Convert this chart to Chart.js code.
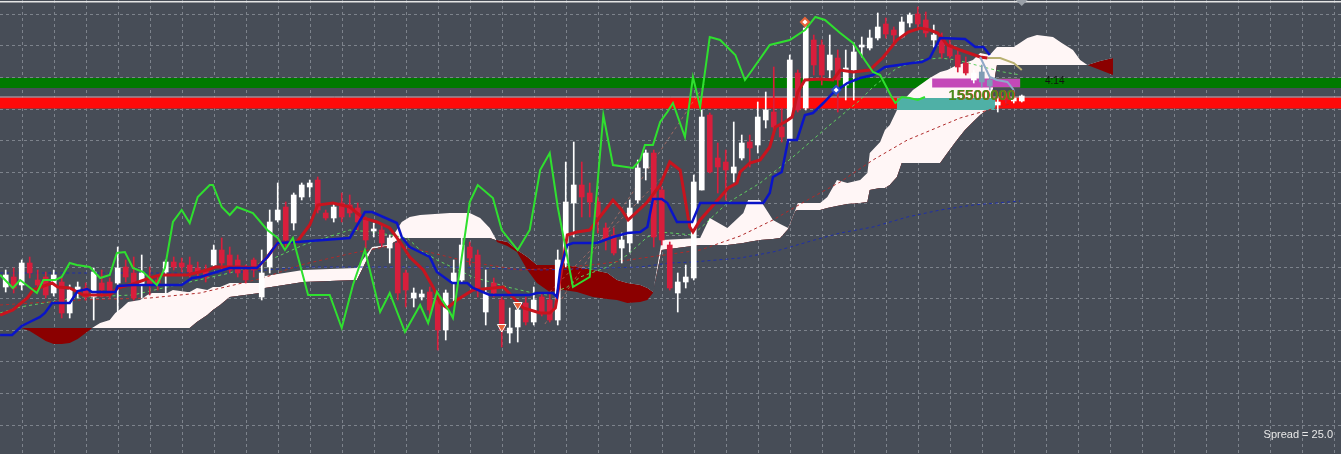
<!DOCTYPE html>
<html>
<head>
<meta charset="utf-8">
<script src="https://cdn.jsdelivr.net/npm/chart.js@4.4.1/dist/chart.umd.min.js"></script>
<style>
  html, body { margin: 0; padding: 0; background: #474d57; }
  #wrap { width: 1341px; height: 454px; position: relative; }
</style>
</head>
<body>
<div id="wrap"><canvas id="ichimokuChart"></canvas></div>
<script>
// ================================
// DATA (bar index 0..127, price in points)
// ================================

const candleOpen = [
    1167, 1177, 1169, 1191, 1174, 1177, 1161, 1172, 1141, 1164,
    1166, 1157, 1171, 1172, 1171, 1187, 1181, 1169, 1177, 1174,
    1182, 1192, 1191, 1189, 1186, 1184, 1189, 1204, 1199, 1194,
    1184, 1194, 1157, 1187, 1234, 1247, 1231, 1257, 1267, 1274,
    1241, 1236, 1251, 1249, 1246, 1234, 1223, 1224, 1206, 1211,
    1181, 1156, 1157, 1162, 1154, 1124, 1171, 1174, 1207, 1199,
    1142, 1171, 1154, 1121, 1127, 1151, 1132, 1157, 1154, 1134,
    1191, 1251, 1269, 1261, 1252, 1226, 1219, 1206, 1211, 1254,
    1286, 1301, 1264, 1209, 1161, 1172, 1176, 1264, 1339, 1296,
    1292, 1281, 1296, 1312, 1309, 1334, 1342, 1327, 1314, 1381,
    1346, 1414, 1409, 1384, 1396, 1369, 1384, 1407, 1406, 1416,
    1430, 1424, 1417, 1431, 1440, 1434, 1414, 1416, 1409, 1399,
    1391, 1374, 1382, 1374, 1349, 1358, 1353, 1353,
];
const candleHigh = [
    1184, 1186, 1194, 1197, 1184, 1182, 1184, 1176, 1169, 1172,
    1171, 1186, 1184, 1176, 1207, 1194, 1197, 1199, 1187, 1179,
    1194, 1197, 1196, 1197, 1192, 1189, 1209, 1216, 1207, 1199,
    1189, 1196, 1204, 1244, 1271, 1252, 1261, 1271, 1274, 1277,
    1244, 1251, 1261, 1259, 1251, 1237, 1231, 1229, 1219, 1214,
    1184, 1166, 1164, 1167, 1157, 1164, 1194, 1217, 1212, 1204,
    1184, 1176, 1157, 1146, 1149, 1157, 1167, 1161, 1161, 1204,
    1292, 1312, 1292, 1271, 1257, 1231, 1226, 1221, 1254, 1294,
    1304, 1304, 1267, 1212, 1181, 1189, 1279, 1344, 1341, 1311,
    1304, 1332, 1319, 1319, 1352, 1362, 1387, 1346, 1399, 1384,
    1432, 1419, 1414, 1419, 1404, 1404, 1411, 1417, 1424, 1441,
    1436, 1427, 1437, 1441, 1447, 1442, 1429, 1421, 1414, 1404,
    1397, 1384, 1389, 1376, 1356, 1360, 1358, 1359,
];
const candleLow = [
    1162, 1161, 1164, 1176, 1164, 1156, 1158, 1136, 1136, 1156,
    1154, 1134, 1157, 1156, 1142, 1172, 1154, 1156, 1159, 1164,
    1157, 1184, 1182, 1177, 1176, 1172, 1186, 1184, 1181, 1177,
    1171, 1177, 1154, 1181, 1232, 1207, 1224, 1254, 1257, 1241,
    1234, 1232, 1232, 1237, 1224, 1206, 1217, 1207, 1191, 1154,
    1147, 1147, 1154, 1137, 1104, 1114, 1151, 1171, 1189, 1157,
    1129, 1157, 1107, 1111, 1112, 1129, 1129, 1138, 1132, 1129,
    1187, 1217, 1237, 1237, 1221, 1204, 1199, 1191, 1202, 1251,
    1274, 1207, 1209, 1164, 1142, 1166, 1174, 1264, 1281, 1261,
    1254, 1272, 1294, 1287, 1301, 1326, 1321, 1312, 1312, 1342,
    1344, 1379, 1369, 1376, 1342, 1354, 1354, 1397, 1404, 1414,
    1416, 1411, 1416, 1427, 1424, 1417, 1407, 1396, 1396, 1382,
    1379, 1371, 1367, 1364, 1342, 1351, 1351, 1352,
];
const candleClose = [
    1179, 1166, 1191, 1181, 1169, 1159, 1179, 1141, 1164, 1167,
    1157, 1182, 1164, 1161, 1186, 1177, 1156, 1181, 1169, 1171,
    1192, 1187, 1187, 1182, 1181, 1177, 1204, 1191, 1184, 1181,
    1174, 1184, 1181, 1232, 1244, 1214, 1259, 1269, 1271, 1244,
    1236, 1247, 1237, 1241, 1232, 1214, 1225, 1211, 1216, 1161,
    1164, 1161, 1160, 1144, 1124, 1161, 1181, 1209, 1196, 1166,
    1161, 1161, 1124, 1126, 1144, 1132, 1154, 1142, 1134, 1194,
    1252, 1269, 1257, 1252, 1237, 1214, 1201, 1214, 1246, 1286,
    1301, 1217, 1214, 1166, 1172, 1177, 1272, 1337, 1282, 1287,
    1284, 1287, 1311, 1306, 1337, 1344, 1327, 1317, 1394, 1344,
    1426, 1389, 1379, 1399, 1374, 1386, 1402, 1409, 1416, 1427,
    1420, 1419, 1432, 1439, 1430, 1421, 1419, 1401, 1398, 1387,
    1381, 1381, 1372, 1368, 1352, 1354, 1356, 1358,
];
// bars painted in the "current" tint
const tintedBars = [122, 123];

// Ichimoku lines: [bar, price]
const tenkan = [
    [-0.7, 1139], [0.9, 1144], [2.7, 1156], [3.4, 1164], [5.8, 1171], [6.5, 1167], [8, 1166],
    [9.7, 1159], [13, 1159], [14, 1166], [15.9, 1170], [18, 1176], [19.3, 1179], [22.7, 1179],
    [25.2, 1184], [26.2, 1187], [29.3, 1187], [31.4, 1186], [32.7, 1197], [34, 1211], [36.4, 1212],
    [38, 1229], [39, 1249], [40.9, 1251], [43, 1247], [43.9, 1241], [44.7, 1236], [46.4, 1232],
    [48, 1226], [49.3, 1212], [50.5, 1197], [52.2, 1184], [53.4, 1167], [54.3, 1151], [55.2, 1146],
    [56.4, 1154], [58.4, 1164], [62.2, 1167], [64.7, 1146], [66.8, 1141], [68, 1141], [68.7, 1146],
    [70.2, 1219], [71.4, 1222], [73, 1224], [75.9, 1254], [77, 1244], [77.8, 1234], [80.2, 1252],
    [81.8, 1269], [83, 1292], [84.3, 1284], [85.5, 1227], [85.9, 1222], [86.8, 1234], [89, 1254],
    [90.3, 1266], [91.4, 1271], [91.8, 1282], [93, 1291], [94.3, 1294], [95.5, 1307], [96.2, 1327],
    [97.4, 1332], [98.3, 1337], [99, 1362], [99.9, 1374], [101.8, 1375], [103.4, 1374], [104.3, 1384],
    [105.9, 1382], [108, 1384], [109.7, 1397], [111.4, 1414], [112.8, 1422], [114.3, 1426],
    [115.5, 1424], [116.5, 1421], [117.7, 1409], [119.3, 1404], [121.8, 1397], [122.7, 1396],
];
const tenkanTail = [[122.7, 1396], [124.3, 1396], [126, 1391], [127, 1384]];

const kijun = [
    [-0.7, 1119], [0.8, 1119], [2, 1128], [3, 1132], [4.3, 1137], [4.9, 1141], [5.8, 1151], [8, 1151],
    [9, 1163], [10.2, 1165], [10.8, 1162], [13.7, 1162], [14, 1168], [15.9, 1169], [22, 1169],
    [23.3, 1176], [24.3, 1177], [28, 1186], [31.4, 1186], [32.7, 1197], [34, 1211], [36.4, 1212],
    [43, 1216], [44.9, 1242], [45.8, 1242], [48.9, 1231], [49.5, 1217], [50.5, 1207], [53, 1197],
    [53.9, 1182], [55.8, 1171], [57.7, 1171], [58.4, 1166], [60.5, 1159], [65.5, 1159], [66.4, 1161],
    [68.4, 1161], [68.9, 1157], [69.3, 1184], [70.2, 1209], [70.9, 1211], [73.9, 1211], [75.9, 1217],
    [77.7, 1221], [79.3, 1222], [80.2, 1227], [80.9, 1255], [82, 1255], [82.7, 1251], [83.9, 1232],
    [85.8, 1232], [86.8, 1251], [94.7, 1251], [95.5, 1261], [95.9, 1277], [97, 1282], [97.8, 1314],
    [98.9, 1314], [99.9, 1339], [100.9, 1341], [102.2, 1351], [103.4, 1361], [105.2, 1371],
    [106.8, 1376], [108.4, 1379], [109.9, 1387], [113.3, 1391], [114.5, 1392], [115.5, 1396],
    [116.8, 1416], [119.9, 1415], [121.2, 1407], [122.2, 1407], [123, 1399],
];
const kijunTail = [[121.8, 1397], [123, 1377], [123.9, 1374], [125.2, 1372], [126, 1364]];

const chikou = [
    [-0.7, 1179], [0.9, 1166], [1.8, 1174], [3.9, 1161], [4.7, 1174], [6.2, 1174], [7, 1177],
    [8, 1191], [8.9, 1189], [10.5, 1187], [11.8, 1176], [13, 1179], [13.9, 1201], [14.9, 1202],
    [15.9, 1186], [17.2, 1182], [18.9, 1169], [19.9, 1186], [20.9, 1232], [22, 1244], [23, 1231],
    [24, 1257], [25.5, 1269], [25.9, 1269], [27, 1247], [28, 1239], [28.9, 1247], [30.9, 1241],
    [32.7, 1224], [34, 1216], [34.9, 1204], [35.9, 1216], [37.8, 1159], [40.5, 1159], [42, 1126],
    [43.4, 1169], [44.9, 1204], [46.8, 1142], [48, 1161], [49.9, 1122], [51.8, 1149], [52.8, 1131],
    [53.9, 1162], [55.5, 1142], [55.9, 1136], [58, 1252], [59, 1269], [60.9, 1256], [62, 1224],
    [64, 1204], [65.5, 1224], [66.8, 1284], [68, 1301], [69, 1247], [70.9, 1167], [73, 1177],
    [73.4, 1217], [74.7, 1339], [75.9, 1289], [78.4, 1286], [79.3, 1294], [79.9, 1309], [80.9, 1309],
    [81.8, 1332], [82.7, 1342], [83.4, 1351], [84.9, 1317], [85.9, 1377], [86.8, 1347], [88, 1417],
    [89.3, 1414], [91.2, 1399], [92.4, 1374], [93.3, 1384], [95.5, 1409], [98, 1414], [99.9, 1424],
    [101.2, 1437], [102.4, 1434], [104.3, 1421], [105.9, 1411], [108.4, 1382], [109.3, 1379],
    [110.8, 1356], [111.2, 1351], [112, 1357], [113, 1356], [114, 1354], [114.9, 1357],
];

// Kumo (cloud) edges
const cloudBar = [
    2, 3, 4, 5, 6, 7, 8, 9, 10, 10.8, 11.8, 13, 13.7, 14.5, 15.3, 16.8, 17.7, 18.3, 20.2, 20.9,
    22.7, 23, 23.9, 25.2, 25.9, 26.8, 28, 31.8, 32.4, 37.2, 43.9, 45.8, 47.7, 49.5, 50.5, 51.8,
    55.5, 58, 59.3, 60.5, 61.2, 61.4, 62.7, 63.9, 65.2, 66.4, 68, 69.7, 71.4, 73.4, 75.2, 76.4,
    77.7, 79.3, 80.2, 80.9, 82, 86.8, 88, 90.2, 92.2, 92.8, 94.3, 95.9, 96.8, 97.8, 98.7, 99,
    101.8, 102.7, 103.9, 105.2, 106.8, 107.7, 108, 109.3, 109.9, 110.5, 111.4, 112, 113.4, 115.5,
    116.8, 117.7, 118.9, 119.9, 120.9, 121.8, 123, 123.9, 126, 127.7, 128.9, 130.9, 132, 133.4,
    134.3, 135.2, 136.8, 138.4,
];
const senkouA = [
    1126, 1123, 1118, 1113, 1110, 1110, 1111, 1115, 1121, 1126, 1131, 1134, 1141, 1146, 1152, 1154,
    1159, 1161, 1161, 1164, 1162, 1162, 1166, 1164, 1167, 1167, 1171, 1171, 1178, 1184, 1186, 1207,
    1209, 1232, 1237, 1239, 1241, 1241, 1236, 1226, 1216, 1212, 1208, 1202, 1184, 1171, 1162, 1164,
    1162, 1157, 1155, 1154, 1151, 1152, 1154, 1161, 1214, 1216, 1236, 1226, 1241, 1254, 1254, 1234,
    1230, 1226, 1244, 1251, 1251, 1257, 1274, 1271, 1274, 1281, 1301, 1312, 1324, 1329, 1344, 1352,
    1364, 1376, 1382, 1384, 1389, 1391, 1394, 1401, 1399, 1407, 1407, 1416, 1419, 1417, 1411, 1404,
    1394, 1389, 1384, 1379,
];
const senkouB = [
    1126, 1126, 1126, 1126, 1126, 1126, 1126, 1126, 1126, 1126, 1126, 1126, 1126, 1126, 1126, 1126,
    1126, 1126, 1126, 1126, 1126, 1126, 1132, 1139, 1144, 1149, 1157, 1161, 1166, 1172, 1174, 1205,
    1208, 1216, 1216, 1216, 1216, 1216, 1216, 1216, 1214, 1214, 1212, 1204, 1197, 1189, 1189, 1189,
    1187, 1184, 1181, 1174, 1171, 1169, 1166, 1162, 1204, 1209, 1209, 1209, 1211, 1212, 1214, 1215,
    1216, 1225, 1243, 1244, 1244, 1246, 1248, 1250, 1251, 1252, 1264, 1266, 1266, 1269, 1277, 1291,
    1291, 1291, 1291, 1301, 1314, 1324, 1332, 1339, 1346, 1389, 1389, 1389, 1389, 1389, 1389, 1389,
    1389, 1389, 1393, 1396,
];

// moving averages (dashed)
const maSlowRed = [
    [-0.7, 1149], [9.3, 1154], [18, 1156], [24.3, 1161], [32.2, 1176], [36.8, 1189], [43.4, 1201],
    [48, 1208], [51.8, 1204], [58, 1192], [64.3, 1184], [69.3, 1186], [74.3, 1190], [80.5, 1197],
    [86.8, 1204], [91.8, 1218], [95.9, 1234], [100.2, 1254], [104.3, 1272], [108.4, 1294],
    [112.7, 1314], [119.3, 1336], [125.5, 1350],
];
const maFastGreen = [
    [-0.7, 1141], [1.8, 1147], [5.5, 1152], [9.7, 1157], [15.9, 1159], [20.2, 1167], [28, 1181],
    [33, 1194], [37.2, 1209], [43, 1224], [45.9, 1222], [50.2, 1216], [51.8, 1204], [53.9, 1194],
    [58.4, 1177], [62.7, 1167], [65.9, 1161], [67.7, 1159], [70.2, 1167], [71.8, 1177], [75.2, 1187],
    [77.7, 1199], [80.2, 1217], [81.8, 1222], [85.9, 1219], [90.2, 1251], [94.3, 1271], [98.4, 1297],
    [102.7, 1327], [106.8, 1354], [108.4, 1367], [111.4, 1386], [114.3, 1394], [116.8, 1396],
    [118.9, 1394], [122.2, 1387], [124.7, 1382], [126.8, 1379],
];
const maLongBlue = [
    [-0.7, 1181], [28, 1181], [37.2, 1187], [55.5, 1187], [66.8, 1184], [79.3, 1187], [83, 1191],
    [85.9, 1192], [91.8, 1196], [95.9, 1202], [100.2, 1212], [104.3, 1221], [108.4, 1227],
    [112.7, 1237], [116.8, 1244], [120.9, 1249], [126.8, 1253],
];
const fanLines = [
    [[67.4, 1130], [87.4, 1370]],
    [[68, 1162], [83.3, 1287]],
];

// levels and zones
const supportLevel = 1351;
const resistanceLevel = 1371;
const bidLevel = 1357;
const magentaZone = [[115.8, 1371], [126.8, 1371]];
const tealZone = [[111.4, 1350], [123.7, 1350]];

// arrows
const sellArrows = [[62, 1127], [64, 1149]];
const topMark = [[99.9, 1432]];
const crossMark = [[103.8, 1364]];

const timerLabel = { text: "4:14", bar: 129.9, price: 1373 };
const volumeLabel = { text: "15500000", bar: 117.8, price: 1354 };
const spreadText = "Spread = 25.0";

// grid spacing
const gridBars = { first: 2, step: 4 };
const gridPrice = { first: 1440.3, step: 31.6, count: 14 };

// ================================
// CHART
// ================================

const BG = "#474d57";
const UP = "#ffffff";
const DOWN = "#d81e3c";
const TINT = "#7f9cb4";

const candleColors = candleOpen.map((o, i) => {
    if (tintedBars.includes(i)) return TINT;
    return candleClose[i] >= o ? UP : DOWN;
});

function pts(list) {
    return list.map(([x, y]) => ({ x, y }));
}

function lineSet(list, color, width, dash, order) {
    return {
        type: "line",
        data: pts(list),
        borderColor: color,
        borderWidth: width,
        borderDash: dash || [],
        borderCapStyle: "butt",
        pointRadius: 0,
        fill: false,
        tension: 0,
        order: order,
    };
}

const fullWidth = (price) => [[-2, price], [170, price]];

const overlay = {
    id: "overlay",
    beforeDraw(chart) {
        const c = chart.ctx;
        c.save();
        c.fillStyle = BG;
        c.fillRect(0, 0, chart.width, chart.height);
        c.restore();
    },
    beforeDatasetsDraw(chart) {
        // dashed grid
        const c = chart.ctx;
        const xs = chart.scales.x;
        const ys = chart.scales.y;
        c.save();
        c.strokeStyle = "#7d838c";
        c.lineWidth = 1;
        c.setLineDash([3, 3]);
        c.beginPath();
        for (let v = gridBars.first; v <= xs.max; v += gridBars.step) {
            const px = Math.round(xs.getPixelForValue(v)) + 0.5;
            c.moveTo(px, 0);
            c.lineTo(px, chart.height);
        }
        for (let j = 0; j < gridPrice.count; j++) {
            const py = Math.round(ys.getPixelForValue(gridPrice.first - gridPrice.step * j)) + 0.5;
            c.moveTo(0, py);
            c.lineTo(chart.width, py);
        }
        c.stroke();
        c.restore();
    },
    afterDraw(chart) {
        const c = chart.ctx;
        const xs = chart.scales.x;
        const ys = chart.scales.y;
        c.save();

        // frame top line
        c.fillStyle = "#e6e6e6";
        c.fillRect(0, 1, chart.width, 1.5);

        // shift marker
        const sx = xs.getPixelForValue(127);
        c.fillStyle = "#9aa0a8";
        c.beginPath();
        c.moveTo(sx - 6, 0);
        c.lineTo(sx + 6, 0);
        c.lineTo(sx, 6);
        c.closePath();
        c.fill();

        // timer
        c.font = "10px 'Liberation Sans', Arial, sans-serif";
        c.fillStyle = "#111111";
        c.textBaseline = "middle";
        c.fillText(timerLabel.text, xs.getPixelForValue(timerLabel.bar), ys.getPixelForValue(timerLabel.price));

        // volume label
        c.font = "bold 15px 'Liberation Sans', Arial, sans-serif";
        c.textBaseline = "alphabetic";
        const vx = xs.getPixelForValue(volumeLabel.bar);
        const vy = ys.getPixelForValue(volumeLabel.price);
        c.fillStyle = "#e23a2a";
        c.fillText(volumeLabel.text.slice(1), vx + 9, vy);
        c.fillStyle = "#4b8a1c";
        c.fillText(volumeLabel.text, vx, vy);

        // spread
        c.font = "11px 'Liberation Sans', Arial, sans-serif";
        c.fillStyle = "#e8e8e8";
        c.textAlign = "right";
        c.fillText(spreadText, chart.width - 8, chart.height - 16);
        c.restore();
    },
};

const datasets = [
    // levels
    lineSet(fullWidth(resistanceLevel), "#007a00", 10, null, 200),
    lineSet(fullWidth(supportLevel), "#ff0a0a", 11, null, 200),
    lineSet(fullWidth(bidLevel), "#c9aab4", 1, null, 199),

    // cloud
    {
        type: "line",
        data: cloudBar.map((x, i) => ({ x, y: senkouA[i] })),
        borderColor: "rgba(0,0,0,0)",
        pointRadius: 0,
        tension: 0,
        fill: { target: "+1", above: "#fff6f6", below: "#8b0000" },
        order: 150,
    },
    {
        type: "line",
        data: cloudBar.map((x, i) => ({ x, y: senkouB[i] })),
        borderColor: "rgba(0,0,0,0)",
        pointRadius: 0,
        tension: 0,
        fill: false,
        order: 151,
    },

    // zones
    lineSet(magentaZone, "#c448b8", 9, null, 140),
    lineSet(tealZone, "#4fb0a6", 12, null, 140),

    // dashed averages
    lineSet(maSlowRed, "#b02a2a", 1, [3, 3], 120),
    lineSet(maFastGreen, "#5fd05f", 1, [3, 3], 120),
    lineSet(maLongBlue, "#1f2fa8", 1, [3, 3], 120),
    lineSet(fanLines[0], "rgba(230,130,110,0.55)", 1, [3, 3], 120),
    lineSet(fanLines[1], "rgba(230,130,110,0.55)", 1, [3, 3], 120),

    // candles
    {
        type: "bar",
        data: candleOpen.map((o, i) => ({ x: i, y: [candleLow[i], candleHigh[i]] })),
        backgroundColor: candleColors,
        barThickness: 1,
        grouped: false,
        order: 110,
    },
    {
        type: "bar",
        data: candleOpen.map((o, i) => ({ x: i, y: [o, candleClose[i]] })),
        backgroundColor: candleColors,
        barThickness: 5,
        grouped: false,
        order: 100,
    },

    // ichimoku lines
    lineSet(tenkan, "#c8141e", 3, null, 60),
    lineSet(tenkanTail, "#b8b070", 2, null, 60),
    lineSet(kijun, "#0a14c8", 2.5, null, 55),
    lineSet(kijunTail, "#8fa8c8", 2, null, 55),
    lineSet(chikou, "#2fe02f", 2, null, 50),

    // arrows
    {
        type: "scatter",
        data: pts(sellArrows),
        pointStyle: "triangle",
        rotation: 180,
        pointRadius: 5,
        backgroundColor: "#e8643a",
        borderColor: "#ffffff",
        borderWidth: 1,
        order: 10,
    },
    {
        type: "scatter",
        data: pts(topMark),
        pointStyle: "rectRot",
        pointRadius: 4,
        backgroundColor: "#ffffff",
        borderColor: "#e8643a",
        borderWidth: 2,
        order: 10,
    },
    {
        type: "scatter",
        data: pts(crossMark),
        pointStyle: "rectRot",
        pointRadius: 4,
        backgroundColor: "#ffffff",
        borderColor: "#2a4cc8",
        borderWidth: 2,
        order: 10,
    },
];

const ctx = document.getElementById("ichimokuChart");

new Chart(ctx, {
    type: "bar",
    data: { datasets: datasets },
    plugins: [overlay],
    options: {
        responsive: true,
        maintainAspectRatio: false,
        animation: false,
        events: [],
        layout: { padding: 0, autoPadding: false },
        plugins: {
            legend: { display: false },
            tooltip: { enabled: false },
        },
        scales: {
            x: {
                type: "linear",
                display: false,
                offset: false,
                min: -0.7125,
                max: 166.9,
            },
            y: {
                type: "linear",
                display: false,
                min: 1000,
                max: 1454,
            },
        },
    },
});
</script>
</body>
</html>
